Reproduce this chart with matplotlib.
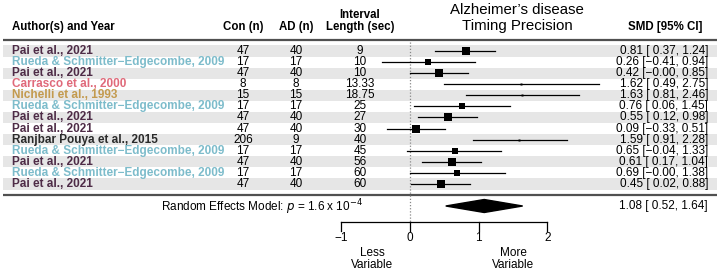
import matplotlib
matplotlib.use("Agg")
import matplotlib.pyplot as plt
from matplotlib.patches import Rectangle, Polygon
import numpy as np

plt.rcParams['font.family'] = ['Liberation Sans', 'DejaVu Sans']

# ---------------- data ----------------
authors = ["Pai et al., 2021", "Rueda & Schmitter\u2212Edgecombe, 2009", "Pai et al., 2021",
           "Carrasco et al., 2000", "Nichelli et al., 1993", "Rueda & Schmitter\u2212Edgecombe, 2009",
           "Pai et al., 2021", "Pai et al., 2021", "Ranjbar Pouya et al., 2015",
           "Rueda & Schmitter\u2212Edgecombe, 2009", "Pai et al., 2021",
           "Rueda & Schmitter\u2212Edgecombe, 2009", "Pai et al., 2021"]
con_n = [47, 17, 47, 8, 15, 17, 47, 47, 206, 17, 47, 17, 47]
ad_n = [40, 17, 40, 8, 15, 17, 40, 40, 9, 17, 40, 17, 40]
interval = ["9", "10", "10", "13.33", "18.75", "25", "27", "30", "40", "45", "56", "60", "60"]
smd = [0.81, 0.26, 0.42, 1.62, 1.63, 0.76, 0.55, 0.09, 1.59, 0.65, 0.61, 0.69, 0.45]
ci_lo = [0.37, -0.41, -0.00, 0.49, 0.81, 0.06, 0.12, -0.33, 0.91, -0.04, 0.17, -0.00, 0.02]
ci_hi = [1.24, 0.94, 0.85, 2.75, 2.46, 1.45, 0.98, 0.51, 2.28, 1.33, 1.04, 1.38, 0.88]
rel_weight = [0.98, 0.68, 0.95, 0.27, 0.27, 0.68, 0.98, 1.03, 0.27, 0.68, 1.03, 0.68, 1.03]
re_est, re_lo, re_hi = 1.08, 0.52, 1.64
re_p_text = r"Random Effects Model: $p$ = 1.6 x 10$^{-4}$"
ticks = [-1, 0, 1, 2]
author_colors = {
    "Pai et al., 2021": "#4e2c47",
    "Rueda & Schmitter\u2212Edgecombe, 2009": "#7dbccb",
    "Carrasco et al., 2000": "#e06a7a",
    "Nichelli et al., 1993": "#c39a4e",
    "Ranjbar Pouya et al., 2015": "#2b2b2b",
}

# ---------------- layout helpers ----------------
X0, SX = 410.0, 68.7     # pixel of SMD 0, pixels per SMD unit
Y0, DY = 51.0, 11.08     # pixel of row 0, pixels per row

def xpx(p):
    return (p - X0) / SX

def ypx(p):
    return (p - Y0) / DY

fig = plt.figure(figsize=(7.2, 2.72), dpi=100)
ax = fig.add_axes([0, 0, 1, 1])
ax.set_xlim(xpx(0), xpx(720))
ax.set_ylim(ypx(272), ypx(0))
ax.axis('off')

rows = np.arange(len(authors))
FS = 8.5

# bands
for r in rows:
    if r % 2 == 0:
        ax.add_patch(Rectangle((xpx(3), r - 0.5), xpx(717) - xpx(3), 1.0,
                               facecolor="#e6e6e6", edgecolor="none", zorder=0))

# header/footer lines
for yp in (40, 195):
    ax.plot([xpx(3), xpx(717)], [ypx(yp), ypx(yp)], color="#505050", lw=1.6,
            solid_capstyle='butt', zorder=1)

# zero line
ax.plot([0, 0], [ypx(42), ypx(222)], color="#888888", lw=0.9, ls=(0, (1, 1.5)), zorder=1)

# headers
hy = ypx(27)
ax.text(xpx(12), hy, "Author(s) and Year", fontsize=8.3, fontweight='bold', ha='left', va='center')
ax.text(xpx(243), hy, "Con (n)", fontsize=8.3, fontweight='bold', ha='center', va='center')
ax.text(xpx(296), hy, "AD (n)", fontsize=8.3, fontweight='bold', ha='center', va='center')
ax.text(xpx(360), ypx(15), "Interval", fontsize=8.3, fontweight='bold', ha='center', va='center')
ax.text(xpx(360), hy, "Length (sec)", fontsize=8.3, fontweight='bold', ha='center', va='center')
ax.text(xpx(665), hy, "SMD [95% CI]", fontsize=8.3, fontweight='bold', ha='center', va='center')
ax.text(xpx(517), ypx(10), "Alzheimer\u2019s disease", fontsize=10.8, ha='center', va='center')
ax.text(xpx(517), ypx(26), "Timing Precision", fontsize=10.8, ha='center', va='center')

def fmt(v):
    s = f"{abs(v):.2f}"
    if v < 0 or (v == 0 and str(v).startswith('-')):
        return "\u2212" + s
    return " " + s

# rows
for r in rows:
    ax.text(xpx(12), r, authors[r], fontsize=FS, fontweight='bold', ha='left', va='center',
            color=author_colors[authors[r]])
    ax.text(xpx(243), r, str(con_n[r]), fontsize=FS, ha='center', va='center')
    ax.text(xpx(296), r, str(ad_n[r]), fontsize=FS, ha='center', va='center')
    ax.text(xpx(360), r, interval[r], fontsize=FS, ha='center', va='center')
    lo = ci_lo[r]
    lo_s = ("\u2212" + f"{abs(lo):.2f}") if (lo < 0 or (lo == 0 and np.signbit(lo))) else (" " + f"{lo:.2f}")
    ax.text(xpx(708), r, f"{smd[r]:.2f} [{lo_s}, {ci_hi[r]:.2f}]", fontsize=FS,
            ha='right', va='center')
    ax.plot([ci_lo[r], ci_hi[r]], [r, r], color="black", lw=0.9, zorder=2)
    ax.plot([smd[r]], [r], marker='s', color='black', markersize=7.4 * 0.72 * rel_weight[r],
            markeredgewidth=0, zorder=3)

# summary
ys = ypx(206)
h = 6.5 / DY
ax.add_patch(Polygon([[re_lo, ys], [re_est, ys - h], [re_hi, ys], [re_est, ys + h]],
                     closed=True, facecolor='black', edgecolor='black', zorder=3))
ax.text(xpx(708), ys, f"{re_est:.2f} [ {re_lo:.2f}, {re_hi:.2f}]", fontsize=FS, ha='right', va='center')
ax.text(xpx(363), ypx(207), re_p_text, fontsize=FS, ha='right', va='center')

# axis
ya = ypx(222)
ax.plot([ticks[0], ticks[-1]], [ya, ya], color='black', lw=0.9)
for t in ticks:
    ax.plot([t, t], [ya, ypx(231)], color='black', lw=0.9)
    ax.text(t, ypx(238), f"{t}".replace("-", "\u2212"), fontsize=FS, ha='center', va='center')
ax.text(xpx(372), ypx(253), "Less", fontsize=FS, ha='center', va='center')
ax.text(xpx(372), ypx(264.5), "Variable", fontsize=FS, ha='center', va='center')
ax.text(xpx(513), ypx(253), "More", fontsize=FS, ha='center', va='center')
ax.text(xpx(513), ypx(264.5), "Variable", fontsize=FS, ha='center', va='center')

fig.savefig("out.png", dpi=100)
